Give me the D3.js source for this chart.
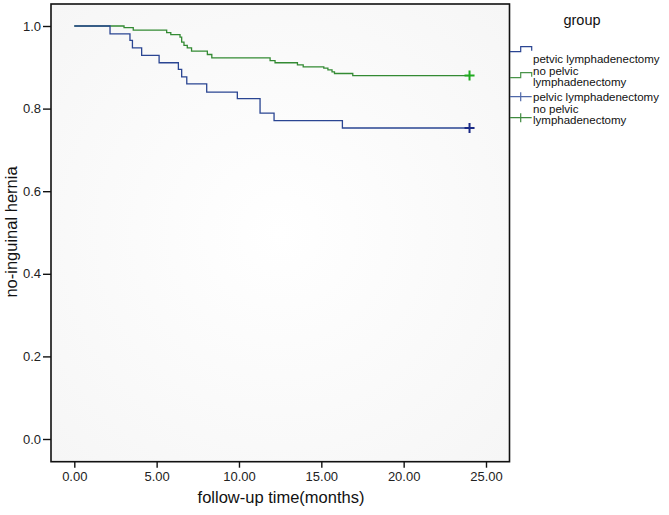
<!DOCTYPE html>
<html>
<head>
<meta charset="utf-8">
<script src="https://cdn.jsdelivr.net/npm/d3@7/dist/d3.min.js"></script>
<style>
  html, body { margin: 0; padding: 0; background: #ffffff; }
  svg { display: block; font-family: "Liberation Sans", Arial, Helvetica, sans-serif; }
</style>
</head>
<body>
<svg id="chart" width="669" height="515"></svg>
<script>
// ---- data ----
const xTicks = [0, 5, 10, 15, 20, 25];
const yTicks = [0, 0.2, 0.4, 0.6, 0.8, 1.0];

const greenTimes = [0, 3.02, 3.58, 5.61, 5.86, 6.42, 6.52, 6.66, 6.86, 7.12, 8.08, 8.35, 11.89, 12.19, 13.55, 13.9, 15.15, 15.4, 15.65, 15.8, 16.91, 24.0];
const greenSurv  = [1.0, 0.996, 0.990, 0.984, 0.979, 0.973, 0.961, 0.953, 0.947, 0.939, 0.931, 0.923, 0.916, 0.911, 0.906, 0.901, 0.898, 0.894, 0.889, 0.885, 0.880, 0.880];

const blueTimes = [0, 2.17, 3.38, 3.53, 4.09, 5.15, 6.32, 6.52, 6.83, 8.04, 9.9, 11.28, 12.13, 16.28, 24.0];
const blueSurv  = [1.0, 0.981, 0.965, 0.947, 0.929, 0.911, 0.895, 0.877, 0.860, 0.840, 0.824, 0.789, 0.771, 0.753, 0.753];

const groups = ["petvic lymphadenectomy", "no pelvic lymphadenectomy"];
const censorGroups = ["pelvic lymphadenectomy", "no pelvic lymphadenectomy"];

const blueColor = "#2a4592";
const greenColor = "#338a33";

// ---- layout ----
const svg = d3.select("#chart");
const frame = {left: 51, right: 509.5, top: 4, bottom: 461.7};

const x = d3.scaleLinear().domain([0, 25]).range([74.3, 486]);
const y = d3.scaleLinear().domain([0, 1]).range([439, 26]);

// plot background
const defs = svg.append("defs");
const grad = defs.append("radialGradient").attr("id", "bg").attr("cx", "50%").attr("cy", "50%").attr("r", "70%");
grad.append("stop").attr("offset", "0%").attr("stop-color", "#ffffff");
grad.append("stop").attr("offset", "100%").attr("stop-color", "#f6f6f6");

svg.append("rect")
  .attr("x", frame.left).attr("y", frame.top)
  .attr("width", frame.right - frame.left).attr("height", frame.bottom - frame.top)
  .attr("fill", "url(#bg)");

// curves
const line = d3.line().x(d => x(d[0])).y(d => y(d[1])).curve(d3.curveStepAfter);

function curve(times, surv, color) {
  const pts = times.map((t, i) => [t, surv[i]]);
  svg.append("path").attr("d", line(pts))
    .attr("fill", "none").attr("stroke", color).attr("stroke-width", 1.3);
  return pts[pts.length - 1];
}
const gEnd = curve(greenTimes, greenSurv, greenColor);
const bEnd = curve(blueTimes, blueSurv, blueColor);

// censor marks
function cross(px, py, color) {
  svg.append("path")
    .attr("d", `M${px - 5},${py}H${px + 5}M${px},${py - 5}V${py + 5}`)
    .attr("stroke", color).attr("stroke-width", 2).attr("fill", "none");
}
cross(x(gEnd[0]), y(gEnd[1]), "#1faa1f");
cross(x(bEnd[0]), y(bEnd[1]), "#1a2a86");

// frame
svg.append("rect")
  .attr("x", frame.left).attr("y", frame.top)
  .attr("width", frame.right - frame.left).attr("height", frame.bottom - frame.top)
  .attr("fill", "none").attr("stroke", "#111").attr("stroke-width", 1.6);

// x axis
const xAxis = d3.axisBottom(x).tickValues(xTicks).tickFormat(d3.format(".2f")).tickSize(6).tickPadding(4);
const gx = svg.append("g").attr("transform", `translate(0,${frame.bottom})`).call(xAxis);
gx.select(".domain").remove();
gx.selectAll("line").attr("stroke", "#111").attr("stroke-width", 1.4);
gx.selectAll("text").attr("font-size", 13).attr("fill", "#222").attr("font-family", "Liberation Sans, Arial, sans-serif");

// y axis
const yAxis = d3.axisLeft(y).tickValues(yTicks).tickFormat(d3.format(".1f")).tickSize(8).tickPadding(2);
const gy = svg.append("g").attr("transform", `translate(${frame.left},0)`).call(yAxis);
gy.select(".domain").remove();
gy.selectAll("line").attr("stroke", "#111").attr("stroke-width", 1.4);
gy.selectAll("text").attr("font-size", 13).attr("fill", "#222").attr("font-family", "Liberation Sans, Arial, sans-serif");

// axis titles
svg.append("text").attr("x", 281).attr("y", 503).attr("text-anchor", "middle")
  .attr("font-size", 16.5).attr("fill", "#111").text("follow-up time(months)");
svg.append("text").attr("transform", "translate(17,232) rotate(-90)").attr("text-anchor", "middle")
  .attr("font-size", 16.5).attr("fill", "#111").text("no-inguinal hernia");

// legend
const lg = svg.append("g");
lg.append("text").attr("x", 582).attr("y", 25).attr("text-anchor", "middle")
  .attr("font-size", 14.5).attr("fill", "#111").text("group");

function stepSym(yb, color) {
  lg.append("path").attr("d", `M510,${yb}H520.7V${yb - 5}H531.7V${yb - 1}`)
    .attr("stroke", color).attr("fill", "none").attr("stroke-width", 1.2);
}
function crossSym(yc, color) {
  lg.append("path").attr("d", `M510,${yc}H531.7M520.7,${yc - 4.5}V${yc + 4.5}`)
    .attr("stroke", color).attr("fill", "none").attr("stroke-width", 1.2);
}
function label(lines, y0) {
  lines.forEach((l, i) => {
    lg.append("text").attr("x", 533).attr("y", y0 + i * 11.5).attr("font-size", 11.5)
      .attr("textLength", null).attr("fill", "#111").text(l);
  });
}
stepSym(51.7, blueColor);
label([groups[0]], 63);
stepSym(77.7, "#4a944a");
label(["no pelvic", "lymphadenectomy"], 74.5);
crossSym(96.7, "#4f68a8");
label([censorGroups[0]], 100.5);
crossSym(117.7, "#3f8a3f");
label(["no pelvic", "lymphadenectomy"], 112.5);
</script>
</body>
</html>
